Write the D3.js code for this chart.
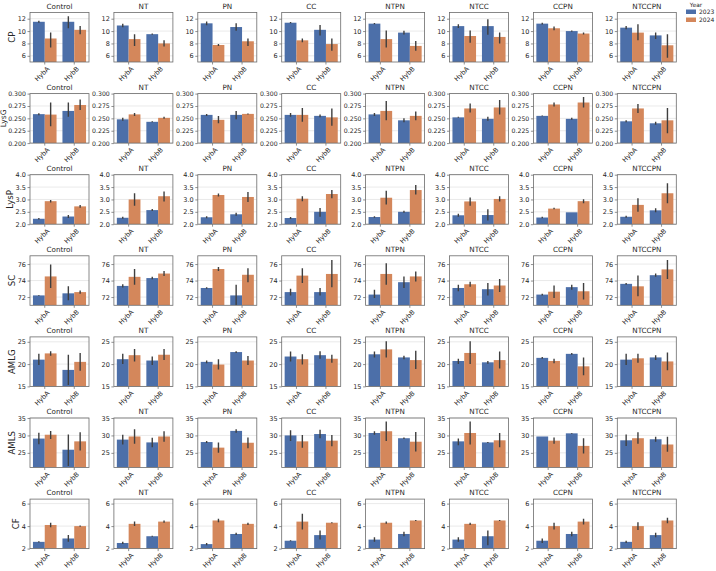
<!DOCTYPE html>
<html>
<head>
<meta charset="utf-8">
<script src="https://cdn.jsdelivr.net/npm/d3@7"></script>
<style>
  body { margin: 0; background: #fff; }
  text { font-family: "DejaVu Sans", sans-serif; }
</style>
</head>
<body>
<svg id="chart" width="716" height="571"></svg>
<script>
// treatments (columns), hybrids (x categories), years (hue)
const traitements = ['Control', 'NT', 'PN', 'CC', 'NTPN', 'NTCC', 'CCPN', 'NTCCPN'];
const hybrides = ['HybA', 'HybB'];
const annees = ['2023', '2024'];
const variables = ['CP', 'LysG', 'LysP', 'SC', 'AMLG', 'AMLS', 'CF'];

// per treatment: [mean, low, high] for HybA-2023, HybA-2024, HybB-2023, HybB-2024
const CP = [
  [[11.5, 11.35, 11.65], [8.8, 7.35, 9.75], [11.5, 10.45, 12.4], [10.2, 9.5, 10.8]],
  [[10.9, 10.6, 11.2], [8.7, 7.6, 9.5], [9.5, 9.4, 9.6], [8.0, 7.5, 8.5]],
  [[11.25, 10.95, 11.55], [7.75, 7.6, 7.9], [10.65, 10.05, 11.25], [8.35, 7.6, 8.8]],
  [[11.35, 11.25, 11.45], [8.5, 8.2, 8.8], [10.2, 9.3, 11.0], [7.9, 6.8, 8.8]],
  [[11.2, 11.1, 11.3], [8.7, 7.35, 10.1], [9.75, 9.45, 10.05], [7.6, 6.8, 8.4]],
  [[10.8, 10.5, 11.1], [9.2, 8.1, 10.1], [10.8, 9.4, 11.9], [9.05, 8.0, 9.75]],
  [[11.2, 11.05, 11.35], [10.45, 10.15, 10.75], [10.0, 9.9, 10.1], [9.6, 9.45, 9.75]],
  [[10.55, 10.3, 10.8], [9.75, 8.5, 11.1], [9.3, 8.7, 9.75], [7.7, 5.7, 9.5]]
];
const LysG = [
  [[0.2585, 0.2565, 0.2605], [0.2576, 0.234, 0.282], [0.265, 0.253, 0.282], [0.277, 0.267, 0.288]],
  [[0.248, 0.245, 0.251], [0.258, 0.255, 0.261], [0.243, 0.242, 0.244], [0.251, 0.249, 0.253]],
  [[0.257, 0.255, 0.259], [0.247, 0.240, 0.255], [0.257, 0.248, 0.265], [0.259, 0.258, 0.260]],
  [[0.257, 0.253, 0.261], [0.257, 0.243, 0.271], [0.255, 0.252, 0.258], [0.252, 0.235, 0.270]],
  [[0.258, 0.255, 0.261], [0.265, 0.246, 0.285], [0.246, 0.242, 0.250], [0.255, 0.246, 0.264]],
  [[0.252, 0.251, 0.253], [0.270, 0.262, 0.280], [0.249, 0.245, 0.253], [0.272, 0.258, 0.287]],
  [[0.255, 0.254, 0.256], [0.278, 0.274, 0.282], [0.249, 0.247, 0.251], [0.282, 0.272, 0.293]],
  [[0.244, 0.242, 0.246], [0.270, 0.261, 0.279], [0.240, 0.237, 0.243], [0.246, 0.220, 0.271]]
];
const LysP = [
  [[2.22, 2.19, 2.25], [2.93, 2.88, 2.98], [2.31, 2.25, 2.37], [2.72, 2.66, 2.78]],
  [[2.26, 2.22, 2.30], [3.0, 2.75, 3.25], [2.57, 2.53, 2.61], [3.13, 2.92, 3.32]],
  [[2.28, 2.24, 2.32], [3.18, 3.12, 3.24], [2.4, 2.34, 2.46], [3.1, 2.9, 3.3]],
  [[2.25, 2.21, 2.29], [3.03, 2.93, 3.13], [2.5, 2.3, 2.65], [3.22, 3.05, 3.38]],
  [[2.29, 2.26, 2.32], [3.07, 2.8, 3.35], [2.5, 2.46, 2.54], [3.38, 3.2, 3.58]],
  [[2.36, 2.3, 2.42], [2.92, 2.75, 3.08], [2.37, 2.15, 2.6], [3.02, 2.92, 3.13]],
  [[2.27, 2.24, 2.30], [2.63, 2.60, 2.66], [2.48, 2.48, 2.48], [2.93, 2.85, 3.01]],
  [[2.3, 2.26, 2.34], [2.78, 2.5, 3.05], [2.56, 2.48, 2.64], [3.25, 2.85, 3.65]]
];
const SC = [
  [[72.2, 72.15, 72.25], [74.5, 73.1, 75.95], [72.45, 71.6, 73.3], [72.6, 72.4, 72.8]],
  [[73.35, 73.15, 73.55], [74.45, 73.5, 75.4], [74.3, 74.15, 74.45], [74.85, 74.55, 75.15]],
  [[73.1, 73.0, 73.2], [75.4, 75.15, 75.65], [72.2, 71.0, 73.5], [74.7, 73.8, 75.5]],
  [[72.6, 72.2, 73.0], [74.6, 73.7, 75.5], [72.6, 72.2, 73.1], [74.8, 73.2, 76.5]],
  [[72.3, 71.9, 72.9], [74.8, 73.5, 76.1], [73.8, 73.1, 74.5], [74.5, 73.9, 75.1]],
  [[73.1, 72.7, 73.5], [73.55, 73.25, 73.85], [72.95, 72.2, 73.7], [73.4, 72.6, 74.2]],
  [[72.3, 72.2, 72.4], [72.65, 71.9, 73.4], [73.2, 72.9, 73.5], [72.7, 71.7, 73.7]],
  [[73.6, 73.5, 73.7], [73.3, 72.1, 74.6], [74.65, 74.45, 74.85], [75.35, 74.2, 76.5]]
];
const AMLG = [
  [[21.0, 19.8, 22.3], [22.4, 21.9, 22.9], [18.7, 15.3, 22.1], [20.5, 18.5, 22.5]],
  [[21.1, 20.0, 22.3], [22.0, 20.6, 23.4], [20.8, 19.8, 21.7], [22.1, 20.9, 23.4]],
  [[20.5, 20.2, 20.8], [19.9, 18.8, 21.1], [22.7, 22.5, 22.9], [20.8, 19.8, 21.8]],
  [[21.7, 20.6, 22.8], [21.1, 19.9, 22.2], [22.0, 21.2, 22.9], [21.2, 20.3, 22.1]],
  [[22.2, 21.5, 22.8], [23.3, 21.5, 25.1], [21.5, 21.1, 21.9], [20.9, 18.9, 23.0]],
  [[20.7, 20.0, 21.2], [22.5, 20.0, 25.1], [20.4, 20.1, 20.7], [20.9, 19.0, 22.8]],
  [[21.4, 21.2, 21.6], [20.7, 20.2, 21.2], [22.3, 22.1, 22.5], [19.5, 17.5, 21.5]],
  [[21.0, 19.8, 22.3], [21.3, 20.3, 22.3], [21.5, 20.9, 22.0], [20.6, 18.6, 22.6]]
];
const AMLS = [
  [[29.1, 27.5, 30.8], [30.2, 29.0, 31.3], [25.9, 21.2, 30.3], [28.3, 25.7, 30.9]],
  [[28.8, 27.4, 30.2], [29.7, 27.6, 31.8], [28.0, 26.6, 29.3], [29.7, 28.2, 31.2]],
  [[28.1, 27.8, 28.4], [26.5, 25.0, 28.0], [31.3, 30.8, 31.8], [27.9, 26.3, 29.4]],
  [[30.0, 28.4, 31.5], [28.3, 26.5, 30.1], [30.4, 29.2, 31.6], [28.5, 26.9, 30.1]],
  [[30.7, 30.2, 31.2], [31.2, 28.4, 34.0], [29.2, 29.0, 29.4], [28.2, 25.4, 31.0]],
  [[28.3, 27.2, 29.1], [30.7, 27.4, 34.0], [28.0, 27.85, 28.15], [28.6, 26.6, 30.7]],
  [[29.7, 29.7, 29.7], [28.5, 27.6, 29.4], [30.6, 30.5, 30.7], [27.0, 24.8, 29.2]],
  [[28.6, 27.0, 30.3], [29.2, 27.6, 30.9], [28.9, 28.2, 29.6], [27.4, 25.3, 29.6]]
];
const CF = [
  [[2.6, 2.55, 2.65], [4.1, 3.9, 4.3], [2.9, 2.6, 3.2], [4.0, 3.95, 4.05]],
  [[2.5, 2.4, 2.6], [4.2, 4.0, 4.4], [3.1, 3.05, 3.15], [4.4, 4.3, 4.5]],
  [[2.4, 2.3, 2.5], [4.5, 4.35, 4.65], [3.3, 3.2, 3.4], [4.2, 4.1, 4.3]],
  [[2.7, 2.65, 2.75], [4.4, 3.7, 5.1], [3.2, 2.8, 3.6], [4.3, 4.25, 4.35]],
  [[2.8, 2.6, 3.0], [4.3, 4.2, 4.4], [3.3, 3.1, 3.5], [4.5, 4.45, 4.55]],
  [[2.8, 2.6, 3.0], [4.2, 4.1, 4.3], [3.1, 2.3, 3.6], [4.5, 4.45, 4.55]],
  [[2.7, 2.5, 2.9], [4.0, 3.7, 4.3], [3.3, 3.1, 3.5], [4.4, 4.15, 4.65]],
  [[2.6, 2.5, 2.7], [4.0, 3.65, 4.35], [3.2, 3.0, 3.4], [4.5, 4.25, 4.75]]
];

// y domains and ticks per row
const domainesY = [[5, 13], [0.2, 0.3], [2, 4], [71, 77], [15, 26.1], [20.8, 35], [2, 6.4]];
const ticksY = [
  [6, 8, 10, 12],
  [0.2, 0.225, 0.25, 0.275, 0.3],
  [2, 2.5, 3, 3.5, 4],
  [72, 74, 76],
  [15, 20, 25],
  [25, 30, 35],
  [2, 4, 6]
];
const formatsY = ['d', '.3f', '.1f', 'd', 'd', 'd', 'd'];

const donnees = [CP, LysG, LysP, SC, AMLG, AMLS, CF];
const couleurs = ['#4c6fa9', '#d4875b'];

var svg = d3.select('#chart');
var gauche0 = 30, pasX = 83.9, largeur = 59;
var haut0 = 12.5, pasY = 81.1, hauteur = 49.5;

var defs = svg.append('defs');

donnees.forEach(function(varData, r) {
  var y = d3.scaleLinear().domain(domainesY[r]).range([hauteur, 0]);
  varData.forEach(function(panel, c) {
    var gx = gauche0 + c * pasX, gy = haut0 + r * pasY;
    var g = svg.append('g').attr('transform', `translate(${gx},${gy})`);
    var x = d3.scaleBand().domain(hybrides).range([0, largeur]).paddingInner(0.2).paddingOuter(0.1);
    var xHue = d3.scaleBand().domain(annees).range([0, x.bandwidth()]);

    var clipId = `clip-${r}-${c}`;
    defs.append('clipPath').attr('id', clipId)
      .append('rect').attr('width', largeur).attr('height', hauteur);

    // grid
    g.selectAll('line.grille').data(ticksY[r]).enter().append('line')
      .attr('x1', 0).attr('x2', largeur)
      .attr('y1', d => y(d)).attr('y2', d => y(d))
      .attr('stroke', '#e3e3e3').attr('stroke-width', 0.8);

    var barres = [];
    hybrides.forEach((h, hi) => annees.forEach((a, ai) => {
      var v = panel[hi * 2 + ai];
      barres.push({h: h, a: a, ai: ai, m: v[0], lo: v[1], hi: v[2]});
    }));

    var zone = g.append('g').attr('clip-path', `url(#${clipId})`);
    zone.selectAll('rect').data(barres).enter().append('rect')
      .attr('x', d => x(d.h) + xHue(d.a))
      .attr('width', xHue.bandwidth())
      .attr('y', d => y(d.m))
      .attr('height', d => hauteur - y(d.m))
      .attr('fill', d => couleurs[d.ai]);
    zone.selectAll('line.err').data(barres).enter().append('line')
      .attr('x1', d => x(d.h) + xHue(d.a) + xHue.bandwidth() / 2)
      .attr('x2', d => x(d.h) + xHue(d.a) + xHue.bandwidth() / 2)
      .attr('y1', d => y(d.lo)).attr('y2', d => y(d.hi))
      .attr('stroke', '#3f3f3f').attr('stroke-width', 1.4);

    // axes
    var policeTicks = r === 1 ? 6.2 : 6.5;
    var axeY = g.append('g').call(d3.axisLeft(y).tickValues(ticksY[r]).tickSize(2.5).tickPadding(1.6).tickFormat(d3.format(formatsY[r])));
    var axeX = g.append('g').attr('transform', `translate(0,${hauteur})`)
      .call(d3.axisBottom(x).tickSize(2.5).tickFormat(''));
    [axeY, axeX].forEach(a => {
      a.select('.domain').remove();
      a.selectAll('line').attr('stroke', '#444').attr('stroke-width', 0.6);
      a.selectAll('text').attr('font-size', policeTicks).attr('fill', '#262626');
    });
    axeX.selectAll('.tick').append('text')
      .attr('transform', 'translate(2,4) rotate(-45)')
      .attr('text-anchor', 'end').attr('dy', '0.7em')
      .attr('font-size', 6.6).attr('fill', '#262626')
      .text(d => d);

    g.append('rect').attr('width', largeur).attr('height', hauteur)
      .attr('fill', 'none').attr('stroke', '#6b6b6b').attr('stroke-width', 0.8);

    g.append('text').attr('x', largeur / 2).attr('y', -4)
      .attr('text-anchor', 'middle').attr('font-size', 7.2).attr('fill', '#262626')
      .text(traitements[c]);

    if (c === 0) {
      // label just left of the tick labels, kept inside the page
      var largeurTicks = axeY.node().getBBox().width;
      var decal = Math.max(-largeurTicks - 2.5, -gauche0 + 6.3);
      g.append('text')
        .attr('transform', `translate(${decal},${hauteur / 2}) rotate(-90)`)
        .attr('text-anchor', 'middle').attr('font-size', r === 1 ? 7.6 : 8.6).attr('fill', '#262626')
        .text(variables[r]);
    }
  });
});

// legend
var leg = svg.append('g').attr('transform', 'translate(686,0)');
leg.append('text').attr('x', 10).attr('y', 6.5).attr('text-anchor', 'middle')
  .attr('font-size', 5.8).attr('fill', '#262626').text('Year');
annees.forEach(function(a, i) {
  leg.append('rect').attr('x', 0).attr('y', 9.5 + i * 8).attr('width', 10).attr('height', 4.5)
    .attr('fill', couleurs[i]);
  leg.append('text').attr('x', 13).attr('y', 14 + i * 8)
    .attr('font-size', 6).attr('fill', '#262626').text(a);
});
</script>
</body>
</html>
